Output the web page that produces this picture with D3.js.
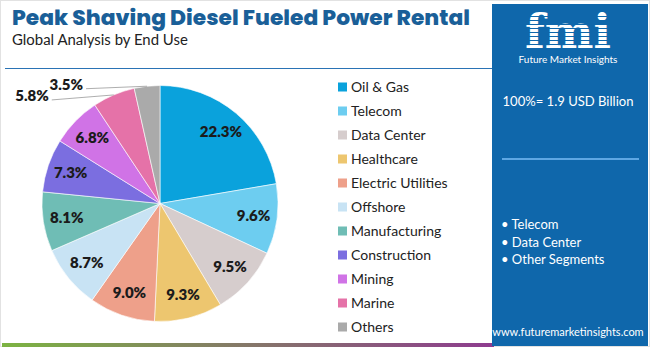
<!DOCTYPE html>
<html><head><meta charset="utf-8">
<script src="https://cdn.jsdelivr.net/npm/d3@7"></script>
<style>body{margin:0;background:#fff}svg{display:block}</style>
</head><body>
<svg id="c" width="650" height="347"></svg>
<script>
const categories = ["Oil & Gas","Telecom","Data Center","Healthcare","Electric Utilities","Offshore","Manufacturing","Construction","Mining","Marine","Others"];
const shares = [22.3,9.6,9.5,9.3,9.0,8.7,8.1,7.3,6.8,5.8,3.5];
const colors = ["#0aa2dc","#6dcdf0","#d6cdcd","#edc66f","#eea08a","#c8e3f4","#6fbdb5","#7b6ee0","#d073e6","#e572a8","#aaaaaa"];
const highlights = ["Telecom","Data Center","Other Segments"];
const totalText = "100%= 1.9 USD Billion";
const titleText = "Peak Shaving Diesel Fueled Power Rental";
const subtitleText = "Global Analysis by End Use";

const svg = d3.select("#c");
const font = "Lato, 'Open Sans', sans-serif";

function fitText(sel, w){ const n=sel.node(); const l=n.getComputedTextLength(); if(l>0){ const fs=parseFloat(sel.attr("font-size")); sel.attr("font-size", fs*w/l);} }

// frame
svg.append("rect").attr("x",0.5).attr("y",0.5).attr("width",649).attr("height",346).attr("fill","#fff").attr("stroke","#e2e2e2");
const grad = svg.append("defs").append("linearGradient").attr("id","bar");
grad.append("stop").attr("offset","0%").attr("stop-color","#7cb342");
grad.append("stop").attr("offset","100%").attr("stop-color","#8e3b8f");
svg.append("rect").attr("x",2).attr("y",343).attr("width",492).attr("height",4).attr("fill","url(#bar)");

// title
const t = svg.append("text").attr("x",12).attr("y",24.5).attr("font-family","Poppins, "+font).attr("font-weight",800).attr("font-size",22).attr("fill","#1a5f98").text(titleText);
fitText(t, 458);
const st = svg.append("text").attr("x",12).attr("y",45).attr("font-family",font).attr("font-size",14).attr("fill","#222").text(subtitleText);
fitText(st, 176);
svg.append("line").attr("x1",5).attr("x2",492).attr("y1",68.5).attr("y2",68.5).attr("stroke","#2a73b5").attr("stroke-width",1.2);

// right panel
const px=492, pw=156;
svg.append("rect").attr("x",px).attr("y",4).attr("width",pw).attr("height",342).attr("fill","#0f67ab");
// logo
const logo = svg.append("g");
logo.append("text").attr("x",px+pw/2-2).attr("y",48).attr("text-anchor","middle").attr("font-family","'DejaVu Serif', serif").attr("font-weight",700).attr("font-size",46).attr("fill","#fff").text("fmi");
for(let y=16;y<50;y+=4){ logo.append("line").attr("x1",px+10).attr("x2",px+pw-10).attr("y1",y+0.5).attr("y2",y+0.5).attr("stroke","#0f67ab").attr("stroke-width",1.2); }
logo.append("text").attr("x",px+pw/2-2).attr("y",63).attr("text-anchor","middle").attr("font-family",font).attr("font-size",10).attr("fill","#fff").text("Future Market Insights");

const tt = svg.append("text").attr("x",px+pw/2-2).attr("y",106).attr("text-anchor","middle").attr("font-family",font).attr("font-size",14).attr("fill","#fff").text(totalText);
fitText(tt,131);
svg.append("line").attr("x1",502).attr("x2",639).attr("y1",159).attr("y2",159).attr("stroke","#5ea7e3").attr("stroke-width",2);
svg.append("g").selectAll("text").data(highlights).join("text")
  .attr("x",501).attr("y",(d,i)=>229+i*17.5).attr("font-family",font).attr("font-size",13).attr("fill","#fff").text(d=>"• "+d);
svg.append("text").attr("x",px+pw/2-2).attr("y",336).attr("text-anchor","middle").attr("font-family",font).attr("font-size",11).attr("fill","#fff").text("www.futuremarketinsights.com");

// pie
const cx=160, cy=203.5, r=118;
const pie = d3.pie().value(d=>d.v).sort(null);
const data = pie(categories.map((c,i)=>({c, v:shares[i], col:colors[i]})));
const arc = d3.arc().innerRadius(0).outerRadius(r);
const g = svg.append("g").attr("transform",`translate(${cx},${cy})`);
g.selectAll("path").data(data).join("path").attr("d",arc).attr("fill",d=>d.data.col).attr("stroke","#fff").attr("stroke-width",0.6);
const labArc = d3.arc().innerRadius(r*0.8).outerRadius(r*0.8);
const inside = data.filter(d=>d.data.v>=6);
g.selectAll("text.in").data(inside).join("text").attr("class","in")
  .attr("transform",d=>{const [x,y]=labArc.centroid(d); return `translate(${x},${y})`;})
  .attr("text-anchor","middle").attr("dy","0.35em")
  .attr("font-family",font).attr("font-weight",800).attr("font-size",15).attr("fill","#1b1b1b")
  .text(d=>d.data.v.toFixed(1)+"%");
// outside labels
const edge = d3.arc().innerRadius(r).outerRadius(r);
const outside = data.filter(d=>d.data.v<6);
const offs = {"Marine":[-65,1], "Others":[-64,-1.5]};
outside.forEach(d=>{
  const [ex,ey]=edge.centroid(d);
  const o=offs[d.data.c];
  const tx=ex+o[0], ty=ey+o[1];
  g.append("line").attr("x1",tx+3).attr("y1",ty+4).attr("x2",ex).attr("y2",ey).attr("stroke","#999").attr("stroke-width",0.8);
  g.append("text").attr("x",tx).attr("y",ty).attr("text-anchor","end").attr("dy","0.35em")
   .attr("font-family",font).attr("font-weight",800).attr("font-size",15).attr("fill","#1b1b1b").text(d.data.v.toFixed(1)+"%");
});

// legend
const lg = svg.append("g");
const rows = lg.selectAll("g").data(categories).join("g").attr("transform",(d,i)=>`translate(338,${87+i*24})`);
rows.append("rect").attr("x",0).attr("y",-4.5).attr("width",9).attr("height",9).attr("fill",(d,i)=>colors[i]);
rows.append("text").attr("x",13).attr("dy","0.35em").attr("font-family",font).attr("font-size",14).attr("fill","#222").text(d=>d);
</script>
</body></html>
